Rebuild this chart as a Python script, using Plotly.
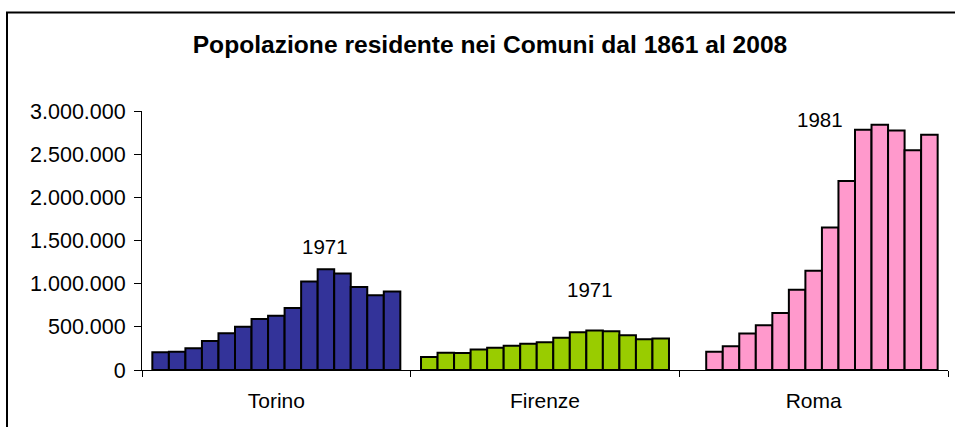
import plotly.graph_objects as go

# ---- data ----
cities = ["Torino", "Firenze", "Roma"]
years = ["1861", "1871", "1881", "1901", "1911", "1921", "1931", "1936",
         "1951", "1961", "1971", "1981", "1991", "2001", "2008"]
torino = [204715, 212644, 252832, 335656, 427106, 502274, 590753, 629115,
          719300, 1025822, 1167968, 1117154, 962507, 865263, 908263]
firenze = [150864, 201138, 196144, 236635, 258056, 280133, 304160, 322535,
           374625, 436516, 457803, 448331, 403294, 356118, 365966]
roma = [None, 212432, 273952, 422411, 518917, 660235, 930926, 1150589,
        1651754, 2188160, 2781993, 2840259, 2775250, 2546804, 2724347]
city_colors = ["#333399", "#99CC00", "#FF99CC"]
y_ticks = [0, 500000, 1000000, 1500000, 2000000, 2500000, 3000000]
# annotation labels: (text, x in category units, y value)
labels = [("1971", 0.181, 1436000), ("1971", 1.1675, 938000), ("1981", 2.024, 2907000)]

W, H = 955, 427
L, R, T, B = 142, 7, 111, 57
plot_w = W - L - R
plot_h = H - T - B

fig = go.Figure()
for i, yr in enumerate(years):
    fig.add_trace(go.Bar(
        x=cities,
        y=[torino[i], firenze[i], roma[i]],
        name=yr,
        marker=dict(color=city_colors, line=dict(color="black", width=2)),
        showlegend=False,
    ))

for text, xv, yv in labels:
    fig.add_annotation(x=xv, y=yv, xref="x", yref="y", text=text, showarrow=False,
                       font=dict(size=20.5, color="black"))

# chart border (outer frame, extends beyond the visible right/bottom edges)
def px_to_paper_x(px):
    return (px - L) / plot_w

def px_to_paper_y(py):
    return (H - B - py) / plot_h

fig.add_shape(type="rect", xref="paper", yref="paper",
              x0=px_to_paper_x(7), x1=px_to_paper_x(975),
              y0=px_to_paper_y(440), y1=px_to_paper_y(12.5),
              line=dict(color="black", width=2), fillcolor="rgba(0,0,0,0)",
              layer="above")

fig.update_layout(
    width=W, height=H,
    margin=dict(l=L, r=R, t=T, b=B, pad=0),
    paper_bgcolor="white", plot_bgcolor="white",
    barmode="group", bargap=0.077, bargroupgap=0,
    separators=",.",
    font=dict(family="Liberation Sans, Arial, sans-serif", size=20, color="black"),
    title=dict(text="<b>Popolazione residente nei Comuni dal 1861 al 2008</b>",
               x=490 / W, xref="container", xanchor="center",
               y=1 - 44 / H, yref="container", yanchor="middle",
               font=dict(size=24.6, color="black")),
    xaxis=dict(type="category", showline=True, linecolor="black", linewidth=1,
               ticks="outside", tickson="boundaries", ticklen=6, tickcolor="black",
               showgrid=False, zeroline=False, ticklabelstandoff=12,
               tickfont=dict(size=21, color="black")),
    yaxis=dict(range=[0, 3000000], tickvals=y_ticks, tickformat=",d",
               showline=True, linecolor="black", linewidth=1,
               ticks="outside", ticklen=7, tickcolor="black",
               showgrid=False, zeroline=False, ticklabelstandoff=4,
               tickfont=dict(size=21.5, color="black")),
)

fig.write_html("out.html",
               config={"displayModeBar": False},
               post_script="document.body.style.margin='0px';document.body.style.overflow='hidden';")
